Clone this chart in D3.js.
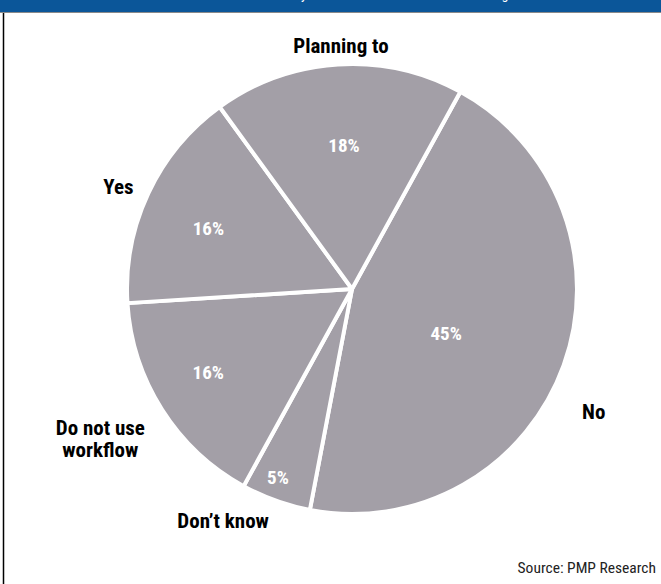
<!DOCTYPE html>
<html>
<head>
<meta charset="utf-8">
<script src="https://cdn.jsdelivr.net/npm/d3@7"></script>
<style>
  body { margin: 0; background: #fff; }
  svg { display: block; }
  text { font-family: "Liberation Sans Narrow", "Roboto Condensed", Roboto, "Arial Narrow", sans-serif; }
</style>
</head>
<body>
<svg id="chart" width="661" height="584"></svg>
<script>
(function (d3) {
  'use strict';

  // data
  const categories = ['No', "Don\u2019t know", 'Do not use workflow', 'Yes', 'Planning to'];
  const values = [45, 5, 16, 16, 18];
  const percentLabels = ['45%', '5%', '16%', '16%', '18%'];
  const outerLabels = [['No'], ['Don\u2019t know'], ['Do not use', 'workflow'], ['Yes'], ['Planning to']];

  const title = 'Does your business use workflow to manage its files?';
  const source = 'Source: PMP Research';

  // layout
  const WIDTH = 661;
  const HEIGHT = 584;
  const CX = 352;
  const CY = 289;
  const RADIUS = 225;
  const START = 28.8 * Math.PI / 180;
  // label placement, polar around the pie centre (radius px, nudge in degrees from slice middle)
  const PCT_R = [104, 202, 166, 156, 144];
  const PCT_DA = [5.3, 1.7, 2.4, -2.2, 0.4];
  const OUT_R = [271, 265, 293, 255, 244];
  const OUT_DA = [7.1, 9.3, 1.6, -1.6, 1.0];
  const FILL = '#a39fa7';

  const svg = d3.select('#chart');

  // header bar (title runs off the top like in the original)
  svg.append('rect').attr('x', 0).attr('y', 0).attr('width', WIDTH).attr('height', 12)
    .attr('fill', '#0b5699');
  svg.append('text')
    .attr('x', 417).attr('y', -1)
    .attr('text-anchor', 'middle')
    .attr('fill', '#fff')
    .style('font-size', '14px')
    .text(title);
  svg.append('line').attr('x1', 0).attr('x2', WIDTH).attr('y1', 12.5).attr('y2', 12.5)
    .attr('stroke', '#8a8a8a').attr('stroke-width', 1);
  svg.append('line').attr('x1', 3.5).attr('x2', 3.5).attr('y1', 13).attr('y2', HEIGHT)
    .attr('stroke', '#000').attr('stroke-width', 1.5);

  const pie = d3.pie().sort(null).value((d) => d)
    .startAngle(START).endAngle(START + 2 * Math.PI);
  const arcs = pie(values);
  const arc = d3.arc().innerRadius(0).outerRadius(RADIUS);

  const g = svg.append('g').attr('transform', `translate(${CX},${CY})`);

  g.selectAll('path')
    .data(arcs)
    .enter()
    .append('path')
    .attr('d', arc)
    .attr('fill', FILL)
    .attr('stroke', '#fff')
    .attr('stroke-width', 4)
    .attr('stroke-linejoin', 'round')
    .append('title')
    .text((a, i) => categories[i]);

  const mid = (a) => (a.startAngle + a.endAngle) / 2;
  const polar = (r, ang) => [r * Math.sin(ang), -r * Math.cos(ang)];
  const rad = (deg) => deg * Math.PI / 180;

  g.selectAll('text.pct')
    .data(arcs)
    .enter()
    .append('text')
    .attr('class', 'pct')
    .attr('transform', (a, i) => `translate(${polar(PCT_R[i], mid(a) + rad(PCT_DA[i]))})`)
    .attr('dy', '0.35em')
    .attr('text-anchor', 'middle')
    .attr('fill', '#fff')
    .style('font-size', '19px')
    .style('font-weight', 'bold')
    .text((a, i) => percentLabels[i]);

  const out = g.selectAll('text.out')
    .data(arcs)
    .enter()
    .append('text')
    .attr('class', 'out')
    .attr('text-anchor', 'middle')
    .attr('fill', '#000')
    .style('font-size', '21px')
    .style('font-weight', 'bold')
    .attr('transform', (a, i) => `translate(${polar(OUT_R[i], mid(a) + rad(OUT_DA[i]))})`);

  const LINE_H = 22;
  out.each(function (a, i) {
    const lines = outerLabels[i];
    const t = d3.select(this);
    lines.forEach((l, k) => {
      t.append('tspan')
        .attr('x', 0)
        .attr('y', k * LINE_H - (lines.length - 1) * LINE_H / 2)
        .attr('dy', '0.35em')
        .text(l);
    });
  });

  svg.append('text')
    .attr('x', 656).attr('y', 573)
    .attr('text-anchor', 'end')
    .attr('fill', '#222')
    .style('font-size', '15.5px')
    .text(source);

}(d3));
</script>
</body>
</html>
